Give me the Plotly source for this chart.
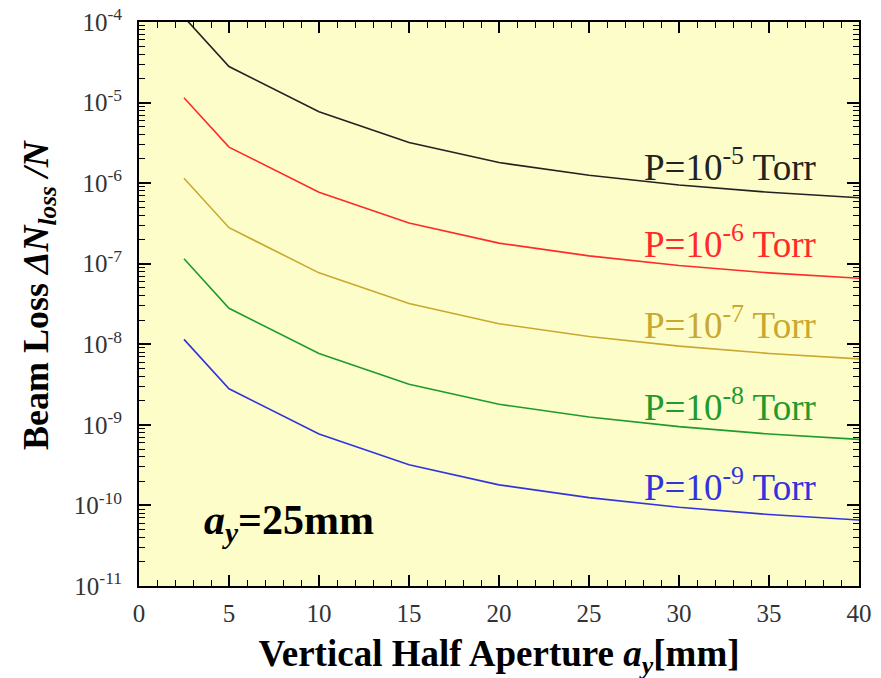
import plotly.graph_objects as go

# Vertical half aperture [mm]
aperture = [2.5, 5, 10, 15, 20, 25, 30, 35, 40]

# Beam loss dN_loss/N for each pressure
loss_p1e5 = [1.15e-4, 2.8e-5, 7.7e-6, 3.2e-6, 1.8e-6, 1.25e-6, 9.5e-7, 7.7e-7, 6.6e-7]
loss_p1e6 = [1.15e-5, 2.8e-6, 7.7e-7, 3.2e-7, 1.8e-7, 1.25e-7, 9.5e-8, 7.7e-8, 6.6e-8]
loss_p1e7 = [1.15e-6, 2.8e-7, 7.7e-8, 3.2e-8, 1.8e-8, 1.25e-8, 9.5e-9, 7.7e-9, 6.6e-9]
loss_p1e8 = [1.15e-7, 2.8e-8, 7.7e-9, 3.2e-9, 1.8e-9, 1.25e-9, 9.5e-10, 7.7e-10, 6.6e-10]
loss_p1e9 = [1.15e-8, 2.8e-9, 7.7e-10, 3.2e-10, 1.8e-10, 1.25e-10, 9.5e-11, 7.7e-11, 6.6e-11]

series_labels = ["P=10<sup>-5</sup> Torr", "P=10<sup>-6</sup> Torr", "P=10<sup>-7</sup> Torr",
                 "P=10<sup>-8</sup> Torr", "P=10<sup>-9</sup> Torr"]
series_values = [loss_p1e5, loss_p1e6, loss_p1e7, loss_p1e8, loss_p1e9]
series_colors = ["#222222", "#ff2a2a", "#c9a830", "#1f9a2e", "#3333dd"]
# label positions as log10 of the y value (log axis annotations)
label_logy = [-5.77, -6.73, -7.73, -8.75, -9.74]

y_tickvals = [1e-4, 1e-5, 1e-6, 1e-7, 1e-8, 1e-9, 1e-10, 1e-11]
y_ticktext = ["10<sup>-4</sup>", "10<sup>-5</sup>", "10<sup>-6</sup>", "10<sup>-7</sup>",
              "10<sup>-8</sup>", "10<sup>-9</sup>", "10<sup>-10</sup>", "10<sup>-11</sup>"]
x_tickvals = [0, 5, 10, 15, 20, 25, 30, 35, 40]

SERIF = "Liberation Serif, Times New Roman, serif"

fig = go.Figure()
for vals, col in zip(series_values, series_colors):
    fig.add_trace(go.Scatter(x=aperture, y=vals, mode="lines",
                             line=dict(color=col, width=1.6), showlegend=False))

for lab, col, yv in zip(series_labels, series_colors, label_logy):
    fig.add_annotation(x=37.7, y=yv, xref="x", yref="y", text=lab, showarrow=False,
                       xanchor="right", yanchor="middle",
                       font=dict(family=SERIF, size=37, color=col))

fig.add_annotation(x=3.5, y=-10.22, xref="x", yref="y",
                   text="<b><i>a<sub>y</sub></i>=25mm</b>", showarrow=False,
                   xanchor="left", yanchor="middle",
                   font=dict(family=SERIF, size=42, color="black"))

fig.add_annotation(x=(38 - 139) / (859 - 139), y=(586 - 295) / (586 - 22),
                   xref="paper", yref="paper",
                   text="<b>Beam Loss <i>ΔN</i><sub><i>loss</i></sub> <i>/N</i></b>",
                   textangle=-90, showarrow=False, xanchor="center", yanchor="middle",
                   font=dict(family=SERIF, size=36, color="black"))

# page body has an 8px margin, so the figure is drawn 8px right/down
fig.update_layout(
    width=881, height=678,
    margin=dict(l=131, r=30, t=14, b=100),
    paper_bgcolor="white",
    plot_bgcolor="#fdfdc9",
    font=dict(family=SERIF, size=25, color="#222222"),
)

fig.update_xaxes(
    range=[0, 40], tickvals=x_tickvals, ticks="inside", ticklen=11, tickwidth=1.5,
    tickcolor="black", showline=True, linecolor="black", linewidth=2, mirror="ticks",
    showgrid=False, zeroline=False, automargin=False,
    minor=dict(ticks="inside", ticklen=6, tickwidth=1.3, tickcolor="black", dtick=1, showgrid=False),
    title=dict(text="<b>Vertical Half Aperture <i>a</i><sub><i>y</i></sub>[mm]</b>",
               font=dict(family=SERIF, size=37, color="black"), standoff=14),
    tickfont=dict(family=SERIF, size=25, color="#333333"),
    ticklabelstandoff=4,
)

fig.update_yaxes(
    type="log", range=[-11, -4], tickvals=y_tickvals, ticktext=y_ticktext,
    ticks="inside", ticklen=12, tickwidth=1.5, tickcolor="black",
    showline=True, linecolor="black", linewidth=2, mirror="ticks",
    showgrid=False, zeroline=False, automargin=False,
    minor=dict(ticks="inside", ticklen=6, tickwidth=1.3, tickcolor="black", dtick="D1", showgrid=False),
    tickfont=dict(family=SERIF, size=25, color="#333333"),
    ticklabelstandoff=10, ticklabeloverflow="allow",
)

fig.write_html("out.html")
